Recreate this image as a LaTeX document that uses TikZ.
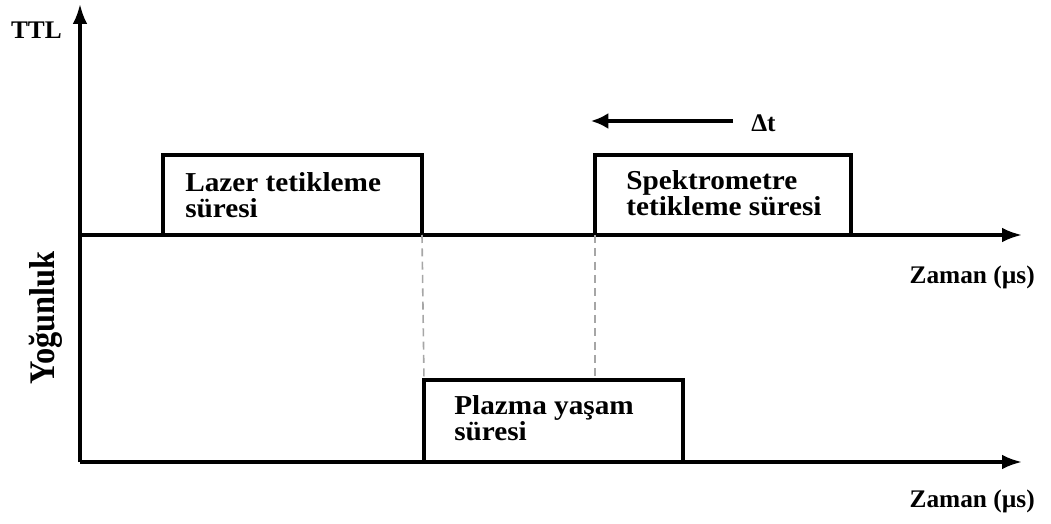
\documentclass[tikz,border=0pt]{standalone}
\usepackage{fontspec}
\setmainfont{Liberation Serif}
\usetikzlibrary{arrows.meta}
\begin{document}
\begin{tikzpicture}[x=0.75pt,y=-0.75pt,
  axis/.style={line width=2.4pt,-{Latex[length=15pt,width=11pt]}},
  pulse/.style={line width=2.4pt},
  guide/.style={line width=1.2pt,draw=black!35,dash pattern=on 6pt off 4pt},
  lbl/.style={inner sep=0pt,font=\fontsize{19}{20.25}\selectfont\bfseries,align=left},
  boxlbl/.style={lbl,font=\fontsize{20.5}{19.5}\selectfont\bfseries,xscale=1.07},
  delayarrow/.style={line width=2.4pt,-{Latex[length=13pt,width=12pt]}}]
\useasboundingbox (0,0) rectangle (1051,524);
% coordinates
\coordinate (O) at (80,462);
\coordinate (Ytop) at (80,4);
\coordinate (U0) at (80,235);
\coordinate (Uend) at (1022,235);
\coordinate (Lend) at (1022,462);
\coordinate (a1) at (163,235); \coordinate (a2) at (163,155);
\coordinate (a3) at (422,155); \coordinate (a4) at (422,235);
\coordinate (s1) at (595,235); \coordinate (s2) at (595,155);
\coordinate (s3) at (851,155); \coordinate (s4) at (851,235);
\coordinate (p1) at (424,462); \coordinate (p2) at (424,380);
\coordinate (p3) at (683,380); \coordinate (p4) at (683,462);
\coordinate (s5) at (595,380);
\coordinate (d1) at (733,121); \coordinate (d2) at (591,121);
% axes
\draw[axis] (O) -- (Ytop);
\draw[axis] (U0) -- (Uend);
\draw[axis] (O) -- (Lend);
% pulses
\draw[pulse] (a1) -- (a2) -- (a3) -- (a4);
\draw[pulse] (s1) -- (s2) -- (s3) -- (s4);
\draw[pulse] (p1) -- (p2) -- (p3) -- (p4);
% guides
\draw[guide] (a4) -- (p2);
\draw[guide] (s1) -- (s5);
% delay arrow
\draw[delayarrow] (d1) -- (d2);
% labels
\node[lbl,anchor=east] (ttl) at (62,30) {TTL};
\node[lbl,anchor=west] (dt) at (751,123) {Δt};
\node[boxlbl,anchor=north west] (las) at (185,172) {Lazer tetikleme\\süresi};
\node[boxlbl,anchor=north west] (spe) at (626,170) {Spektrometre\\tetikleme süresi};
\node[boxlbl,anchor=north west] (pla) at (454,395) {Plazma yaşam\\süresi};
\node[lbl,anchor=east] (z1) at (1035,277) {Zaman (µs)};
\node[lbl,anchor=east] (z2) at (1035,501) {Zaman (µs)};
\node[inner sep=0pt,font=\fontsize{27}{28}\selectfont\bfseries,rotate=90,xscale=0.9] (yog) at (46,318) {Yoğunluk};
\end{tikzpicture}
\end{document}
